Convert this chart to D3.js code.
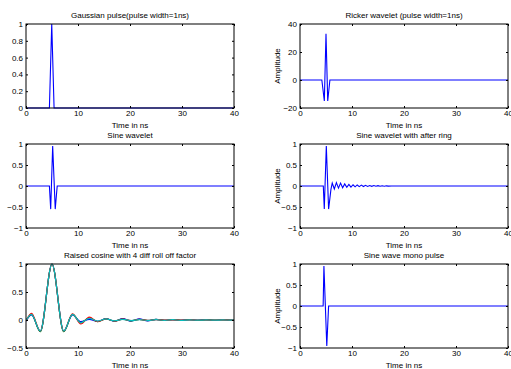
<!DOCTYPE html>
<html>
<head>
<meta charset="utf-8">
<script src="https://cdn.jsdelivr.net/npm/d3@7"></script>
<style>
  body { margin: 0; background: #fff; }
  svg { display: block; font-family: "Liberation Sans", Arial, sans-serif; }
  .tick text { font-size: 8px; fill: #000; }
</style>
</head>
<body>
<div id="chart"></div>
<script>
// --- values ---
const xTicks = [0, 10, 20, 30, 40];

const gaussT = [0, 4.5, 4.95, 5.4, 40];
const gaussV = [0, 0, 1, 0, 0];

const rickerT = [0, 4.2, 4.68, 5.0, 5.33, 5.75, 40];
const rickerV = [0, 0, -15, 33, -15, 0, 0];

const sineT = [0, 4.5, 4.75, 5.13, 5.62, 6.0, 40];
const sineV = [0, 0, -0.55, 0.95, -0.55, 0, 0];

const ringT = [0, 4.48, 4.67, 5.06, 5.5, 5.95, 6.2, 6.6, 7.0, 7.4, 7.8, 8.2, 8.6, 9.0, 9.4, 9.8, 10.2, 10.6, 11.0,
  11.4, 11.8, 12.2, 12.6, 13.0, 13.4, 13.8, 14.2, 14.6, 15.0, 15.4, 15.8, 16.2, 16.6, 17.0, 17.6, 40];
const ringV = [0, 0, -0.55, 0.95, -0.55, -0.08, 0.07, -0.07, 0.08, -0.05, 0.07, -0.04, 0.05, -0.03, 0.04, -0.025, 0.03,
  -0.02, 0.025, -0.015, 0.02, -0.012, 0.015, -0.01, 0.012, -0.008, 0.01, -0.006, 0.008, -0.005, 0.006, -0.004, 0.004, -0.002, 0, 0];

const rcT = [0, 1.06, 2.75, 5, 7.25, 8.94, 10.55, 12.17, 13.8, 15.4, 17.0, 18.6, 20.2, 21.8, 23.4, 25.0,
  26.6, 28.2, 29.8, 31.4, 33.0, 34.6, 36.2, 37.8, 39.4, 40];
const rcBlue = [-0.02, 0.09, -0.2, 1, -0.2, 0.09, -0.03, 0.01, -0.025, 0.025, -0.025, 0.025, -0.02, 0.02, -0.015, 0.01,
  -0.005, 0.005, -0.005, 0.008, -0.005, 0.008, -0.005, 0.005, -0.003, 0];
const rcGreen = [-0.01, 0.1, -0.21, 1, -0.21, 0.1, -0.05, 0.04, -0.03, 0.02, -0.02, 0.015, -0.015, 0.012, -0.01, 0.01,
  -0.008, 0.008, -0.006, 0.006, -0.005, 0.004, -0.003, 0.003, -0.002, 0];
const rcRed = [-0.02, 0.12, -0.2, 1, -0.2, 0.11, -0.07, 0.05, -0.03, 0.02, -0.02, 0.015, -0.01, 0.01, -0.008, 0.006,
  -0.004, 0.004, -0.003, 0.003, -0.002, 0.002, -0.002, 0.002, -0.001, 0];
const rcCyan = [-0.01, 0.1, -0.2, 1, -0.2, 0.1, -0.05, 0.03, -0.02, 0.02, -0.015, 0.012, -0.01, 0.008, -0.008, 0.006,
  -0.006, 0.005, -0.005, 0.004, -0.004, 0.003, -0.003, 0.002, -0.002, 0];

const monoT = [0, 4.45, 4.6, 5.15, 5.5, 40];
const monoV = [0, 0, 0.95, -0.95, 0, 0];

// --- layout ---
const width = 511, height = 369;
const colL = [26, 234], colR = [300, 508];
const rows = [[24, 108], [144, 228], [264, 348]];

const panels = [
  { title: "Gaussian pulse(pulse width=1ns)", xr: colL, yr: rows[0], yDomain: [0, 1],
    yTicks: [0, 0.2, 0.4, 0.6, 0.8, 1], ylabel: null, curve: d3.curveLinear,
    series: [{ t: gaussT, v: gaussV, color: "#0000ff" }] },
  { title: "Ricker wavelet (pulse width=1ns)", xr: colR, yr: rows[0], yDomain: [-20, 40],
    yTicks: [-20, 0, 20, 40], ylabel: "Amplitude", curve: d3.curveLinear,
    series: [{ t: rickerT, v: rickerV, color: "#0000ff" }] },
  { title: "Sine wavelet", xr: colL, yr: rows[1], yDomain: [-1, 1],
    yTicks: [-1, -0.5, 0, 0.5, 1], ylabel: null, curve: d3.curveLinear,
    series: [{ t: sineT, v: sineV, color: "#0000ff" }] },
  { title: "Sine wavelet with after ring", xr: colR, yr: rows[1], yDomain: [-1, 1],
    yTicks: [-1, -0.5, 0, 0.5, 1], ylabel: "Amplitude", curve: d3.curveLinear,
    series: [{ t: ringT, v: ringV, color: "#0000ff" }] },
  { title: "Raised cosine with 4 diff roll off factor", xr: colL, yr: rows[2], yDomain: [-0.5, 1],
    yTicks: [-0.5, 0, 0.5, 1], ylabel: null, curve: d3.curveMonotoneX,
    series: [
      { t: rcT, v: rcBlue, color: "#0000ff" },
      { t: rcT, v: rcGreen, color: "#008000" },
      { t: rcT, v: rcRed, color: "#ff0000" },
      { t: rcT, v: rcCyan, color: "#00bfbf" }
    ] },
  { title: "Sine wave mono pulse", xr: colR, yr: rows[2], yDomain: [-1, 1],
    yTicks: [-1, -0.5, 0, 0.5, 1], ylabel: "Amplitude", curve: d3.curveLinear,
    series: [{ t: monoT, v: monoV, color: "#0000ff" }] }
];

const svg = d3.select("#chart").append("svg")
  .attr("width", width)
  .attr("height", height);

const fmt = d3.format("~g");

panels.forEach((p, i) => {
  const x = d3.scaleLinear().domain([0, 40]).range(p.xr);
  const y = d3.scaleLinear().domain(p.yDomain).range([p.yr[1], p.yr[0]]);
  const g = svg.append("g");

  // clip so lines stay inside the box
  const clipId = "clip" + i;
  g.append("clipPath").attr("id", clipId)
    .append("rect")
    .attr("x", p.xr[0]).attr("y", p.yr[0] - 1)
    .attr("width", p.xr[1] - p.xr[0]).attr("height", p.yr[1] - p.yr[0] + 2);

  const line = d3.line()
    .x((d) => x(d[0]))
    .y((d) => y(d[1]))
    .curve(p.curve);

  const lg = g.append("g").attr("clip-path", `url(#${clipId})`);
  p.series.forEach((s) => {
    lg.append("path")
      .datum(s.t.map((t, k) => [t, s.v[k]]))
      .attr("d", line)
      .attr("fill", "none")
      .attr("stroke", s.color)
      .attr("stroke-width", p.series.length > 1 ? 1.2 : 1.1);
  });

  // axes, ticks pointing inward (matlab style)
  const bottom = g.append("g").attr("transform", `translate(0,${p.yr[1]})`)
    .call(d3.axisBottom(x).tickValues(xTicks).tickFormat(fmt).tickSizeInner(-2).tickSizeOuter(0).tickPadding(3));
  g.append("g").attr("transform", `translate(0,${p.yr[0]})`)
    .call(d3.axisTop(x).tickValues(xTicks).tickFormat("").tickSizeInner(-2).tickSizeOuter(0));
  g.append("g").attr("transform", `translate(${p.xr[0]},0)`)
    .call(d3.axisLeft(y).tickValues(p.yTicks).tickFormat(fmt).tickSizeInner(-2).tickSizeOuter(0).tickPadding(3));
  g.append("g").attr("transform", `translate(${p.xr[1]},0)`)
    .call(d3.axisRight(y).tickValues(p.yTicks).tickFormat("").tickSizeInner(-2).tickSizeOuter(0));
  g.selectAll(".domain").remove();
  g.selectAll(".tick line").attr("stroke", "#000");
  g.selectAll(".tick text").attr("font-family", null).attr("font-size", null);
  bottom.selectAll(".tick text").attr("dy", "0.6em");

  g.append("rect")
    .attr("x", p.xr[0]).attr("y", p.yr[0])
    .attr("width", p.xr[1] - p.xr[0]).attr("height", p.yr[1] - p.yr[0])
    .attr("fill", "none")
    .attr("stroke", "#000")
    .attr("stroke-width", 1);

  const cx = (p.xr[0] + p.xr[1]) / 2;
  g.append("text")
    .attr("x", cx).attr("y", p.yr[0] - 6)
    .attr("text-anchor", "middle")
    .attr("font-size", "8px")
    .text(p.title);

  g.append("text")
    .attr("x", cx).attr("y", p.yr[1] + 20)
    .attr("text-anchor", "middle")
    .attr("font-size", "8px")
    .text("Time in ns");

  if (p.ylabel) {
    const cy = (p.yr[0] + p.yr[1]) / 2;
    g.append("text")
      .attr("transform", `translate(${p.xr[0] - 20},${cy}) rotate(-90)`)
      .attr("text-anchor", "middle")
      .attr("font-size", "8px")
      .text(p.ylabel);
  }
});
</script>
</body>
</html>
